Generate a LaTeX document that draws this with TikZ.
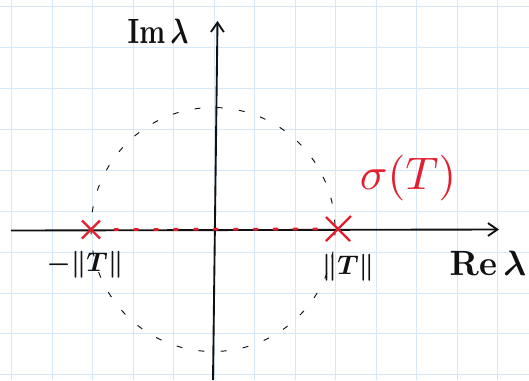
\documentclass[tikz,border=0pt]{standalone}
\usepackage{amsmath}
\usetikzlibrary{arrows.meta}
\definecolor{Grid}{RGB}{212,232,249}
\definecolor{Ink}{HTML}{111111}
\definecolor{Spec}{HTML}{E31E2D}

\begin{document}
\begin{tikzpicture}[x=0.03cm,y=-0.03cm]
  \useasboundingbox[fill=white] (0,0) rectangle (529,380);
  % grid paper
  \foreach \gx in {0,...,12} \draw[Grid,line width=0.8pt] (11.8+40.5*\gx,0) -- (11.8+40.5*\gx,380);
  \foreach \gy in {0,...,9} \draw[Grid,line width=0.8pt] (0,6.7+40.9*\gy) -- (529,6.7+40.9*\gy);
  % axes
  \coordinate (re0) at (11,230.5);
  \coordinate (re1) at (499,229.5);
  \coordinate (im0) at (213,380);
  \coordinate (im1) at (217.5,21);
  \draw[Ink,line width=1.6pt,-{Straight Barb[length=8pt,width=11pt]}] (re0) -- (re1);
  \draw[Ink,line width=1.6pt,-{Straight Barb[length=8pt,width=11pt]}] (im0) -- (im1);
  % disc of radius ||T||
  \coordinate (o) at (213,229.5);
  \draw[Ink,line width=0.8pt,dash pattern=on 5pt off 14pt] (o) circle[radius=122];
  % spectrum
  \coordinate (lo) at (91,229.5);
  \coordinate (hi) at (338,229);
  \draw[Spec,line width=2.4pt,line cap=round,dash pattern=on 3pt off 14pt] ([xshift=20]lo) -- ([xshift=-8]hi);
  \draw[Spec,line width=2pt] ([shift={(-9,-9)}]lo) -- ([shift={(9,9)}]lo)
    ([shift={(-9,9)}]lo) -- ([shift={(9,-9)}]lo);
  \draw[Spec,line width=2pt] ([shift={(-12,-12)}]hi) -- ([shift={(12,12)}]hi)
    ([shift={(-12,12)}]hi) -- ([shift={(13,-13)}]hi);
  % labels
  \node[Ink,xscale=2.3,yscale=3,font=\boldmath] (imlab) at (158,31) {$\mathrm{Im}\,\lambda$};
  \node[Ink,xscale=2.9,yscale=3,font=\boldmath] (relab) at (488,263) {$\mathrm{Re}\,\lambda$};
  \node[Ink,scale=2.3,font=\boldmath] (lolab) at (85,265) {$-\|T\|$};
  \node[Ink,scale=2.3,font=\boldmath] (hilab) at (348,268) {$\|T\|$};
  \node[Spec,scale=3.9] (splab) at (408,178) {$\sigma(T)$};
\end{tikzpicture}
\end{document}
